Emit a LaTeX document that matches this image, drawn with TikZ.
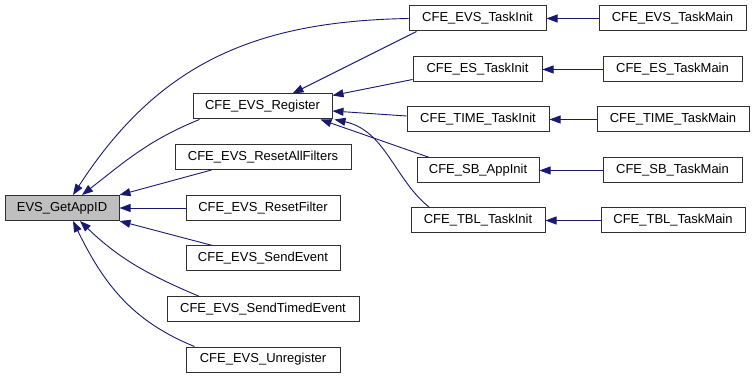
\documentclass[tikz,border=0pt]{standalone}
\usepackage{fontspec}
\setmainfont{Liberation Sans}
\usepackage{xcolor}
\usepackage{tikz}
\usetikzlibrary{arrows.meta}
\definecolor{edgeBlue}{HTML}{191970}
\definecolor{frameGrey}{HTML}{303030}
\definecolor{calleeGrey}{HTML}{BFBFBF}
\tikzset{
  box/.style    = {draw=frameGrey, fill=white, line width=1pt, align=center,
                   font=\fontsize{13}{14}\selectfont, inner xsep=3pt,
                   minimum height=25pt},
  callee/.style = {fill=calleeGrey},
  fl/.style     = {-{Triangle[length=11pt,width=8pt]}, draw=edgeBlue, line width=0.9pt}
}

\begin{document}
\begin{tikzpicture}[x=1pt, y=1pt]
  \useasboundingbox (0,0) rectangle (755,-379);
  \fill[white] (0,0) rectangle (755,-379);
  % the called function
  \node[box, callee, minimum width=114pt] (getappid) at (62,-208) {EVS\_GetAppID};
  % direct callers
  \node[box, minimum width=139pt] (register)    at (262.5,-106.5) {CFE\_EVS\_Register};
  \node[box, minimum width=176pt] (resetall)    at (263,-157)   {CFE\_EVS\_ResetAllFilters};
  \node[box, minimum width=154pt] (resetfilter) at (263,-208)   {CFE\_EVS\_ResetFilter};
  \node[box, minimum width=154pt] (sendevent)   at (263,-258.5) {CFE\_EVS\_SendEvent};
  \node[box, minimum width=192pt] (sendtimed)   at (263,-309.5) {CFE\_EVS\_SendTimedEvent};
  \node[box, minimum width=154pt] (unregister)  at (263,-359.5) {CFE\_EVS\_Unregister};
  % task init column
  \node[box, minimum width=137pt] (evsinit)  at (477.5,-18.5)  {CFE\_EVS\_TaskInit};
  \node[box, minimum width=129pt] (esinit)   at (477.5,-69.5)  {CFE\_ES\_TaskInit};
  \node[box, minimum width=142pt] (timeinit) at (478,-119.5)   {CFE\_TIME\_TaskInit};
  \node[box, minimum width=122pt] (sbinit)   at (478,-170.5)   {CFE\_SB\_AppInit};
  \node[box, minimum width=134pt] (tblinit)  at (478,-220.5)   {CFE\_TBL\_TaskInit};
  % task main column
  \node[box, minimum width=147pt] (evsmain)  at (672.5,-18.5)  {CFE\_EVS\_TaskMain};
  \node[box, minimum width=139pt] (esmain)   at (672.5,-69.5)  {CFE\_ES\_TaskMain};
  \node[box, minimum width=152pt] (timemain) at (673,-119.5)   {CFE\_TIME\_TaskMain};
  \node[box, minimum width=139pt] (sbmain)   at (672.5,-170.5) {CFE\_SB\_TaskMain};
  \node[box, minimum width=144pt] (tblmain)  at (673,-220.5)   {CFE\_TBL\_TaskMain};

  % calls into EVS_GetAppID
  \draw[fl] (evsinit.west) to[out=181, in=57, looseness=1.05] ([xshift=11pt]getappid.north);
  \draw[fl] ([xshift=7pt]register.south west) to[out=202, in=38] ([xshift=20pt]getappid.north);
  \draw[fl] ([xshift=37pt]resetall.south west) -- (getappid.north east);
  \draw[fl] (resetfilter.west) -- (getappid.east);
  \draw[fl] ([xshift=27pt]sendevent.north west) -- (getappid.south east);
  \draw[fl] ([xshift=33pt]sendtimed.north west) to[out=157, in=-44] ([xshift=18pt]getappid.south);
  \draw[fl] ([xshift=9pt]unregister.north west) to[out=158, in=-64] ([xshift=11pt]getappid.south);

  % calls into CFE_EVS_Register
  \draw[fl] ([xshift=8pt]evsinit.south west) -- ([xshift=30pt]register.north);
  \draw[fl] ([yshift=3pt]esinit.south west) -- ([yshift=-2pt]register.north east);
  \draw[fl] ([yshift=3.5pt]timeinit.west) -- ([yshift=-4.5pt]register.east);
  \draw[fl] ([xshift=13pt]sbinit.north west) -- ([xshift=-12pt]register.south east);
  \draw[fl] ([xshift=19pt]tblinit.north west) .. controls +(-35,28) and +(51,-11) .. ([xshift=2pt]register.south east);

  % task mains call their inits
  \draw[fl] (evsmain.west)  -- (evsinit.east);
  \draw[fl] (esmain.west)   -- (esinit.east);
  \draw[fl] (timemain.west) -- (timeinit.east);
  \draw[fl] (sbmain.west)   -- (sbinit.east);
  \draw[fl] (tblmain.west)  -- (tblinit.east);
\end{tikzpicture}
\end{document}
